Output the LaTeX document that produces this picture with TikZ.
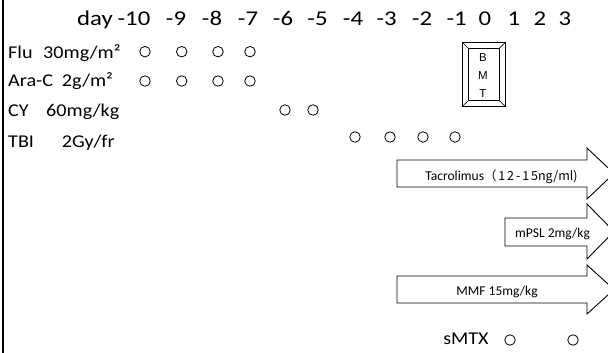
\documentclass[tikz,border=0pt]{standalone}
\usepackage{fontspec}
\setmainfont{Carlito}
\newfontfamily\widefont{Carlito}[FakeStretch=1.18]
\newfontfamily\lblfont{Carlito}[FakeStretch=1.12]
\newfontfamily\cjkfont{Noto Sans CJK JP}
\newfontfamily\cjkwide{Noto Sans CJK JP}[LetterSpace=15]
\newfontfamily\boxfont{Liberation Sans}
\begin{document}
\begin{tikzpicture}[x=1pt,y=-1pt,
  hdr/.style={font=\widefont\fontsize{21}{21}\selectfont, anchor=base, inner sep=0pt},
  lbl/.style={font=\lblfont\fontsize{18}{18}\selectfont, anchor=base west, inner sep=0pt},
  dose/.style={draw, circle, line width=0.8pt, minimum size=10.5pt, inner sep=0pt},
  arrowbody/.style={draw, line width=0.9pt, fill=white},
  arrowtext/.style={font=\fontsize{13.5}{13.5}\selectfont, anchor=base, inner sep=0pt},
  bmtletter/.style={font=\boxfont\fontsize{11.5}{11.5}\selectfont, anchor=base, inner sep=0pt}]
\useasboundingbox (0,0) rectangle (608,353);
\fill[white] (0,0) rectangle (608,353);
\clip (0,0) rectangle (608,353);

% left rule
\draw[line width=2pt] (3,0) -- (3,353);

% day axis
\node[hdr] (day) at (95,25.5) {day};
\foreach \lab/\x [count=\i] in {-10/134,-9/176,-8/212,-7/248,-6/283,-5/317.5,-4/353,-3/386.7,-2/422,-1/456.7,0/485,1/514,2/540,3/565}
  \node[hdr] (d\i) at (\x,25.5) {\lab};

% regimen labels
\node[lbl] (flu) at (8,59) {Flu};
\node[lbl] (fludose) at (43,59) {30mg/m²};
\node[lbl] (arac) at (8,87) {Ara-C};
\node[lbl] (aracdose) at (61.7,87) {2g/m²};
\node[lbl] (cy) at (8,117) {CY};
\node[lbl] (cydose) at (46,117) {60mg/kg};
\node[lbl] (tbi) at (8,147) {TBI};
\node[lbl] (tbidose) at (61.7,147) {2Gy/fr};

% dosing days
\foreach \x [count=\i] in {145,181.7,218,250} {
  \node[dose] (fluc\i) at (\x,51.7) {};
  \node[dose] (arac\i) at (\x,81) {};
}
\node[dose] (cyc1) at (285,110) {};
\node[dose] (cyc2) at (313,110) {};
\foreach \x [count=\i] in {355,390,423,455}
  \node[dose] (tbic\i) at (\x,137) {};

% BMT box with bevelled frame
\draw[line width=0.8pt] (462.7,42.7) rectangle (505,106);
\draw[line width=0.8pt] (468.3,48.3) rectangle (499.3,100.7);
\draw[line width=0.6pt] (462.7,42.7) -- (468.3,48.3)
                        (505,42.7) -- (499.3,48.3)
                        (462.7,106) -- (468.3,100.7)
                        (505,106) -- (499.3,100.7);
\node[bmtletter] (bmtB) at (483,61.7) {B};
\node[bmtletter] (bmtM) at (483,80) {M};
\node[bmtletter] (bmtT) at (483,97.7) {T};

% GVHD prophylaxis arrows
\draw[arrowbody] (397,160) -- (587,160) -- (587,148) -- (614,173.5) -- (587,199) -- (587,187) -- (397,187) -- cycle;
\node[arrowtext] (tac) at (501.5,180) {Tacrolimus{\fontsize{12.5}{12.5}\selectfont{\cjkwide （12-15}{\cjkfont ng/ml)}}};

\draw[arrowbody] (505,218) -- (587,218) -- (587,204) -- (614,231.5) -- (587,259) -- (587,246) -- (505,246) -- cycle;
\node[arrowtext] (mpsl) at (552.5,237.3) {mPSL 2mg/kg};

\draw[arrowbody] (397,276) -- (587,276) -- (587,265) -- (614,289.5) -- (587,314) -- (587,303) -- (397,303) -- cycle;
\node[arrowtext] (mmf) at (497,295) {MMF 15mg/kg};

% short-term methotrexate
\node[lbl, anchor=base] (smtx) at (466,344) {sMTX};
\node[dose] (smtx1) at (510,340) {};
\node[dose] (smtx2) at (573,340) {};
\end{tikzpicture}
\end{document}
